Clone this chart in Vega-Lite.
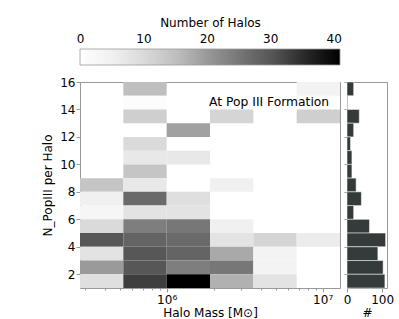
{
  "$schema": "https://vega.github.io/schema/vega-lite/v6.json",
  "background": "white",
  "padding": {"left": 41, "top": 16, "right": 5, "bottom": 5},
  "config": {
    "font": "DejaVu Sans",
    "axis": {"labelFont": "DejaVu Sans", "titleFont": "DejaVu Sans", "labelFontSize": 12, "titleFontSize": 12, "titleFontWeight": "normal", "labelColor": "black", "titleColor": "black", "tickColor": "#999999", "domain": false, "grid": false, "labelOverlap": false},
    "axisY": {"labelOverlap": false},
    "axisQuantitative": {"labelOverlap": false}
  },
  "datasets": {
    "cells": [
      {"m0": 527500, "m1": 1000000, "n0": 15, "n1": 16, "count": 15},
      {"m0": 6812900, "m1": 12915500, "n0": 15, "n1": 16, "count": 4},
      {"m0": 527500, "m1": 1000000, "n0": 14, "n1": 15, "count": 1},
      {"m0": 527500, "m1": 1000000, "n0": 13, "n1": 14, "count": 12},
      {"m0": 1895700, "m1": 3593800, "n0": 13, "n1": 14, "count": 11},
      {"m0": 6812900, "m1": 12915500, "n0": 13, "n1": 14, "count": 12},
      {"m0": 1000000, "m1": 1895700, "n0": 12, "n1": 13, "count": 19},
      {"m0": 527500, "m1": 1000000, "n0": 11, "n1": 12, "count": 10},
      {"m0": 527500, "m1": 1000000, "n0": 10, "n1": 11, "count": 7},
      {"m0": 1000000, "m1": 1895700, "n0": 10, "n1": 11, "count": 7},
      {"m0": 527500, "m1": 1000000, "n0": 9, "n1": 10, "count": 14},
      {"m0": 278256, "m1": 527500, "n0": 8, "n1": 9, "count": 14},
      {"m0": 527500, "m1": 1000000, "n0": 8, "n1": 9, "count": 7},
      {"m0": 1895700, "m1": 3593800, "n0": 8, "n1": 9, "count": 5},
      {"m0": 278256, "m1": 527500, "n0": 7, "n1": 8, "count": 5},
      {"m0": 527500, "m1": 1000000, "n0": 7, "n1": 8, "count": 27},
      {"m0": 1000000, "m1": 1895700, "n0": 7, "n1": 8, "count": 9},
      {"m0": 278256, "m1": 527500, "n0": 6, "n1": 7, "count": 3},
      {"m0": 527500, "m1": 1000000, "n0": 6, "n1": 7, "count": 8},
      {"m0": 1000000, "m1": 1895700, "n0": 6, "n1": 7, "count": 8},
      {"m0": 278256, "m1": 527500, "n0": 5, "n1": 6, "count": 10},
      {"m0": 527500, "m1": 1000000, "n0": 5, "n1": 6, "count": 24},
      {"m0": 1000000, "m1": 1895700, "n0": 5, "n1": 6, "count": 25},
      {"m0": 1895700, "m1": 3593800, "n0": 5, "n1": 6, "count": 5},
      {"m0": 278256, "m1": 527500, "n0": 4, "n1": 5, "count": 30},
      {"m0": 527500, "m1": 1000000, "n0": 4, "n1": 5, "count": 28},
      {"m0": 1000000, "m1": 1895700, "n0": 4, "n1": 5, "count": 27},
      {"m0": 1895700, "m1": 3593800, "n0": 4, "n1": 5, "count": 8},
      {"m0": 3593800, "m1": 6812900, "n0": 4, "n1": 5, "count": 11},
      {"m0": 6812900, "m1": 12915500, "n0": 4, "n1": 5, "count": 6},
      {"m0": 278256, "m1": 527500, "n0": 3, "n1": 4, "count": 8},
      {"m0": 527500, "m1": 1000000, "n0": 3, "n1": 4, "count": 30},
      {"m0": 1000000, "m1": 1895700, "n0": 3, "n1": 4, "count": 28},
      {"m0": 1895700, "m1": 3593800, "n0": 3, "n1": 4, "count": 18},
      {"m0": 3593800, "m1": 6812900, "n0": 3, "n1": 4, "count": 4},
      {"m0": 278256, "m1": 527500, "n0": 2, "n1": 3, "count": 20},
      {"m0": 527500, "m1": 1000000, "n0": 2, "n1": 3, "count": 30},
      {"m0": 1000000, "m1": 1895700, "n0": 2, "n1": 3, "count": 24},
      {"m0": 1895700, "m1": 3593800, "n0": 2, "n1": 3, "count": 25},
      {"m0": 3593800, "m1": 6812900, "n0": 2, "n1": 3, "count": 4},
      {"m0": 278256, "m1": 527500, "n0": 1, "n1": 2, "count": 9},
      {"m0": 527500, "m1": 1000000, "n0": 1, "n1": 2, "count": 33},
      {"m0": 1000000, "m1": 1895700, "n0": 1, "n1": 2, "count": 41},
      {"m0": 1895700, "m1": 3593800, "n0": 1, "n1": 2, "count": 17},
      {"m0": 3593800, "m1": 6812900, "n0": 1, "n1": 2, "count": 8}
    ]
  },
  "columns": 2,
  "bounds": "flush",
  "spacing": {"row": 17, "column": 7},
  "concat": [
    {
      "width": 260,
      "height": 16,
      "view": {"stroke": null},
      "data": {"values": [{"lo": 0, "hi": 41}]},
      "mark": {"type": "rect", "stroke": "#999999", "strokeWidth": 0.8, "fill": {"gradient": "linear", "x1": 0, "x2": 1, "y1": 0, "y2": 0, "stops": [
        {"offset": 0, "color": "#ffffff"}, {"offset": 0.125, "color": "#f0f0f0"}, {"offset": 0.25, "color": "#d9d9d9"}, {"offset": 0.375, "color": "#bdbdbd"}, {"offset": 0.5, "color": "#969696"}, {"offset": 0.625, "color": "#737373"}, {"offset": 0.75, "color": "#525252"}, {"offset": 0.875, "color": "#252525"}, {"offset": 1, "color": "#000000"}]}},
      "encoding": {
        "x": {"field": "lo", "type": "quantitative", "scale": {"domain": [0, 41], "nice": false, "zero": false},
              "axis": {"orient": "top", "values": [0, 10, 20, 30, 40], "ticks": false, "labelPadding": 4, "labelFlush": false, "labelOverlap": false, "title": "Number of Halos", "titlePadding": 3}},
        "x2": {"field": "hi"}
      }
    },
    {
      "width": 40,
      "height": 16,
      "view": {"stroke": null},
      "data": {"values": [{"a": 1}]},
      "mark": {"type": "point", "opacity": 0},
      "encoding": {}
    },
    {
      "width": 260,
      "height": 206,
      "view": {"stroke": "#999999", "strokeWidth": 1},
      "encoding": {
        "y": {"field": "n0", "type": "quantitative", "scale": {"domain": [1, 16], "nice": false, "zero": false},
              "axis": {"values": [2, 4, 6, 8, 10, 12, 14, 16], "tickSize": 4, "labelPadding": 1, "labelOverlap": false, "labelBound": false, "labelFlush": false, "title": "N_PopIII per Halo", "titlePadding": 5}}
      },
      "layer": [
        {
          "data": {"name": "cells"},
          "mark": {"type": "rect"},
          "encoding": {
            "x": {"field": "m0", "type": "quantitative", "scale": {"type": "log", "domain": [278256, 12915500], "nice": false},
                  "axis": {"values": [300000, 400000, 500000, 600000, 700000, 800000, 900000, 1000000, 2000000, 3000000, 4000000, 5000000, 6000000, 7000000, 8000000, 9000000, 10000000],
                           "labelExpr": "datum.value == 1000000 ? '10⁶' : (datum.value == 10000000 ? '10⁷' : '')",
                           "tickSize": {"condition": {"test": "datum.value == 1000000 || datum.value == 10000000", "value": 4}, "value": 2},
                           "labelFlush": false, "labelOverlap": false, "labelPadding": 2,
                           "title": "Halo Mass [M⊙]", "titlePadding": 2}},
            "x2": {"field": "m1"},
            "y2": {"field": "n1"},
            "color": {"field": "count", "type": "quantitative", "scale": {"domain": [0, 5.125, 10.25, 15.375, 20.5, 25.625, 30.75, 35.875, 41], "range": ["#ffffff", "#f0f0f0", "#d9d9d9", "#bdbdbd", "#969696", "#737373", "#525252", "#252525", "#000000"], "interpolate": "rgb"}, "legend": null}
          }
        },
        {
          "data": {"values": [{"m0": 11000000, "n0": 14.55, "label": "At Pop III Formation"}]},
          "mark": {"type": "text", "align": "right", "baseline": "middle", "fontSize": 12.3, "color": "black"},
          "encoding": {
            "x": {"field": "m0", "type": "quantitative"},
            "text": {"field": "label"}
          }
        }
      ]
    },
    {
      "width": 40,
      "height": 206,
      "view": {"stroke": "#999999", "strokeWidth": 1},
      "data": {"name": "cells"},
      "transform": [{"aggregate": [{"op": "sum", "field": "count", "as": "total"}], "groupby": ["n0", "n1"]}],
      "mark": {"type": "bar", "color": "#353b3b", "stroke": "#ffffff", "strokeWidth": 0.5},
      "encoding": {
        "x": {"field": "total", "type": "quantitative", "scale": {"domain": [0, 114], "nice": false},
              "axis": {"values": [0, 100], "tickSize": 4, "labelPadding": 2, "labelFlush": false, "labelOverlap": false, "title": "#", "titlePadding": 2}},
        "x2": {"datum": 0},
        "y": {"field": "n0", "type": "quantitative", "scale": {"domain": [1, 16], "nice": false, "zero": false},
              "axis": {"values": [2, 4, 6, 8, 10, 12, 14, 16], "tickSize": 3, "labels": false, "title": null}},
        "y2": {"field": "n1"}
      }
    }
  ]
}
